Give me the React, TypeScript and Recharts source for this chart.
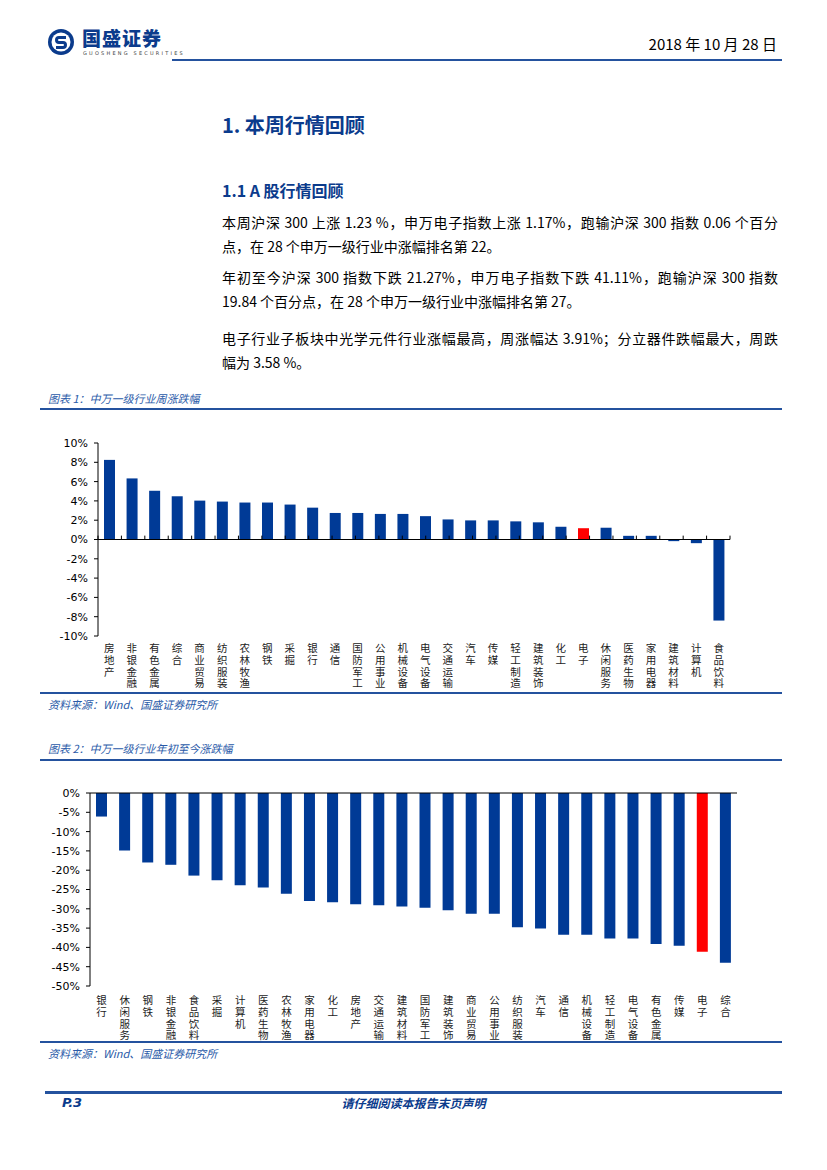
import React from "react";
import { BarChart, Bar, XAxis, YAxis, Cell, ReferenceLine } from "recharts";

/* ─── 图表1: 中万一级行业周涨跌幅 ───────────── */
const weekCats = [
  "房地产", "非银金融", "有色金属", "综合", "商业贸易", "纺织服装", "农林牧渔",
  "钢铁", "采掘", "银行", "通信", "国防军工", "公用事业", "机械设备",
  "电气设备", "交通运输", "汽车", "传媒", "轻工制造", "建筑装饰", "化工",
  "电子", "休闲服务", "医药生物", "家用电器", "建筑材料", "计算机", "食品饮料",
];
const weekVals = [
  8.25, 6.33, 5.05, 4.48, 4.03, 3.93, 3.83, 3.83, 3.62, 3.3, 2.75, 2.75, 2.65, 2.65,
  2.42, 2.08, 1.98, 1.98, 1.88, 1.78, 1.32, 1.17, 1.22, 0.38, 0.38, -0.17, -0.38, -8.4,
];
const weekTicks = [-10, -8, -6, -4, -2, 0, 2, 4, 6, 8, 10];

/* ─── 图表2: 中万一级行业年初至今涨跌幅 ─────── */
const ytdCats = [
  "银行", "休闲服务", "钢铁", "非银金融", "食品饮料", "采掘", "计算机",
  "医药生物", "农林牧渔", "家用电器", "化工", "房地产", "交通运输", "建筑材料",
  "国防军工", "建筑装饰", "商业贸易", "公用事业", "纺织服装", "汽车", "通信",
  "机械设备", "轻工制造", "电气设备", "有色金属", "传媒", "电子", "综合",
];
const ytdVals = [
  -6.1, -14.9, -18.0, -18.6, -21.4, -22.6, -23.9, -24.5, -26.1, -28.0, -28.3, -28.8, -29.1, -29.4,
  -29.7, -30.4, -31.3, -31.3, -34.8, -35.1, -36.7, -36.7, -37.7, -37.7, -39.1, -39.6, -41.11, -44.0,
];
const ytdTicks = [-50, -45, -40, -35, -30, -25, -20, -15, -10, -5, 0];

const HIGHLIGHT = "电子";
const BLUE = "#003a96";
const RED = "#ff0000";
const NAVY = "#0b3b8c";
const LINE = "#24529e";

const weekData = weekCats.map((name, i) => ({ name, value: weekVals[i] }));
const ytdData = ytdCats.map((name, i) => ({ name, value: ytdVals[i] }));
const boundaries = Array.from({ length: weekCats.length + 1 }, (_, i) => i);

const CJK = "'Noto Sans CJK SC', sans-serif";
const axisTick = { fontSize: 11, fill: "#000", fontFamily: "'DejaVu Sans', Verdana, sans-serif" };

// vertical category label, one text running top to bottom
const VerticalTick = ({ x, y, payload, gap }: any) => (
  <text x={x} y={y + gap} writingMode="vertical-rl" style={{ writingMode: "vertical-rl" }}
    textAnchor="start" fontSize={10.5} letterSpacing={1.2} fontFamily={CJK} fill="#222">
    {payload.value}
  </text>
);

function WeeklyChart() {
  return (
    <BarChart width={740} height={265} data={weekData} margin={{ top: 13, right: 50, left: 0, bottom: 4 }} barSize={11}>
      <XAxis dataKey="name" interval={0} axisLine={false} tickLine={false} tickSize={0} tickMargin={0} height={55}
        tick={(p: any) => <VerticalTick {...p} gap={7} />} />
      <XAxis xAxisId="grid" type="number" domain={[0, weekCats.length]} ticks={boundaries} hide />
      <YAxis domain={[-10, 10]} ticks={weekTicks} interval={0} width={58} tick={axisTick}
        tickFormatter={(v) => `${v}%`} axisLine={{ stroke: "#000" }} tickLine={{ stroke: "#000" }} tickSize={4} tickMargin={6} />
      <Bar dataKey="value" isAnimationActive={false}>
        {weekData.map((d) => <Cell key={d.name} fill={d.name === HIGHLIGHT ? RED : BLUE} />)}
      </Bar>
      <ReferenceLine y={0} stroke="#000" strokeWidth={1} />
      {boundaries.map((b) => (
        <ReferenceLine key={b} xAxisId="grid" stroke="#000" segment={[{ x: b, y: 0 }, { x: b, y: 0.4 }]} />
      ))}
    </BarChart>
  );
}

function YtdChart() {
  return (
    <BarChart width={740} height={275} data={ytdData} margin={{ top: 22, right: 43, left: 0, bottom: 4 }} barSize={11}>
      <XAxis dataKey="name" interval={0} axisLine={false} tickLine={false} tickSize={0} tickMargin={0} height={55}
        tick={(p: any) => <VerticalTick {...p} gap={9} />} />
      <XAxis xAxisId="grid" orientation="top" type="number" domain={[0, ytdCats.length]} ticks={boundaries} interval={0}
        height={1} tick={false} tickSize={5} axisLine={{ stroke: "#000" }} tickLine={{ stroke: "#000" }} />
      <YAxis domain={[-50, 0]} ticks={ytdTicks} interval={0} width={50} tick={axisTick}
        tickFormatter={(v) => `${v}%`} axisLine={{ stroke: "#000" }} tickLine={{ stroke: "#000" }} tickSize={4} tickMargin={6} />
      <Bar dataKey="value" isAnimationActive={false}>
        {ytdData.map((d) => <Cell key={d.name} fill={d.name === HIGHLIGHT ? RED : BLUE} />)}
      </Bar>
    </BarChart>
  );
}

const abs = (top: number, left: number, extra: React.CSSProperties = {}): React.CSSProperties => ({
  position: "absolute", top, left, ...extra,
});

const hline = (top: number, left: number, width: number, h = 1.5) => (
  <div style={abs(top, left, { width, height: h, background: LINE })} />
);

const para = [
  { text: "本周沪深 300 上涨 1.23 %，申万电子指数上涨 1.17%，跑输沪深 300 指数 0.06 个百分", y: 222, full: true },
  { text: "点，在 28 个申万一级行业中涨幅排名第 22。", y: 246, full: false },
  { text: "年初至今沪深 300 指数下跌 21.27%，申万电子指数下跌 41.11%，跑输沪深 300 指数", y: 277, full: true },
  { text: "19.84 个百分点，在 28 个申万一级行业中涨幅排名第 27。", y: 301, full: false },
  { text: "电子行业子板块中光学元件行业涨幅最高，周涨幅达 3.91%；分立器件跌幅最大，周跌", y: 338, full: true },
  { text: "幅为 3.58 %。", y: 362, full: false },
];

const caption: React.CSSProperties = { fontSize: 11, fontStyle: "italic", color: "#2a5aa8", fontFamily: CJK, lineHeight: "14px", whiteSpace: "nowrap" };

export default function App() {
  return (
    <div style={{ position: "absolute", left: 0, top: 0, width: 827, height: 1170, background: "#fff", fontFamily: CJK }}>
      {/* header */}
      <svg style={abs(28, 47)} width={28} height={28} viewBox="0 0 28 28">
        <circle cx={14} cy={14} r={13} fill={NAVY} />
        <circle cx={14} cy={14} r={9.5} fill="#fff" />
        <path d="M19 9.5 H12 a2.5 2.5 0 0 0 0 5 h4 a2.5 2.5 0 0 1 0 5 H9" stroke={NAVY} strokeWidth={3} fill="none" />
      </svg>
      <div style={abs(27, 82, { fontSize: 19, fontWeight: 900, color: NAVY, lineHeight: "22px", letterSpacing: 1 })}>国盛证券</div>
      <div style={abs(50, 83, { fontSize: 5, color: "#444", lineHeight: "6px", letterSpacing: 2.2, fontFamily: "'DejaVu Sans'" })}>GUOSHENG SECURITIES</div>
      <div style={abs(34, 600, { width: 177, textAlign: "right", fontSize: 15, lineHeight: "20px", color: "#000" })}>2018 年 10 月 28 日</div>
      {hline(59, 172, 610, 2)}

      {/* title + text */}
      <div style={abs(112, 222, { fontSize: 20, fontWeight: 700, color: NAVY, lineHeight: "26px" })}>1. 本周行情回顾</div>
      <div style={abs(179, 222, { fontSize: 16, fontWeight: 700, color: NAVY, lineHeight: "22px" })}>1.1 A 股行情回顾</div>
      {para.map((p) => (
        <div key={p.y} style={abs(p.y - 12, 222, {
          width: 556, fontSize: 14, lineHeight: "24px", color: "#000", whiteSpace: "nowrap",
          textAlign: p.full ? "justify" : "left", textAlignLast: p.full ? "justify" : "left",
        } as React.CSSProperties)}>{p.text}</div>
      ))}

      {/* chart 1 */}
      <div style={abs(391, 48, caption)}>图表 1：中万一级行业周涨跌幅</div>
      {hline(408, 40, 742)}
      <div style={abs(430, 40)}><WeeklyChart /></div>
      {hline(692, 40, 742)}
      <div style={abs(697, 48, caption)}>资料来源：Wind、国盛证券研究所</div>

      {/* chart 2 */}
      <div style={abs(741, 48, caption)}>图表 2：中万一级行业年初至今涨跌幅</div>
      {hline(759, 40, 742)}
      <div style={abs(770, 40)}><YtdChart /></div>
      {hline(1041, 40, 742)}
      <div style={abs(1046, 48, caption)}>资料来源：Wind、国盛证券研究所</div>

      {/* footer */}
      {hline(1091, 45, 737, 2.5)}
      <div style={abs(1095, 62, { fontSize: 13, fontWeight: 700, fontStyle: "italic", color: NAVY, lineHeight: "16px", fontFamily: "'DejaVu Sans'" })}>P.3</div>
      <div style={abs(1095, 0, { width: 827, textAlign: "center", fontSize: 12, fontWeight: 700, fontStyle: "italic", color: NAVY, lineHeight: "16px" })}>请仔细阅读本报告末页声明</div>
    </div>
  );
}
